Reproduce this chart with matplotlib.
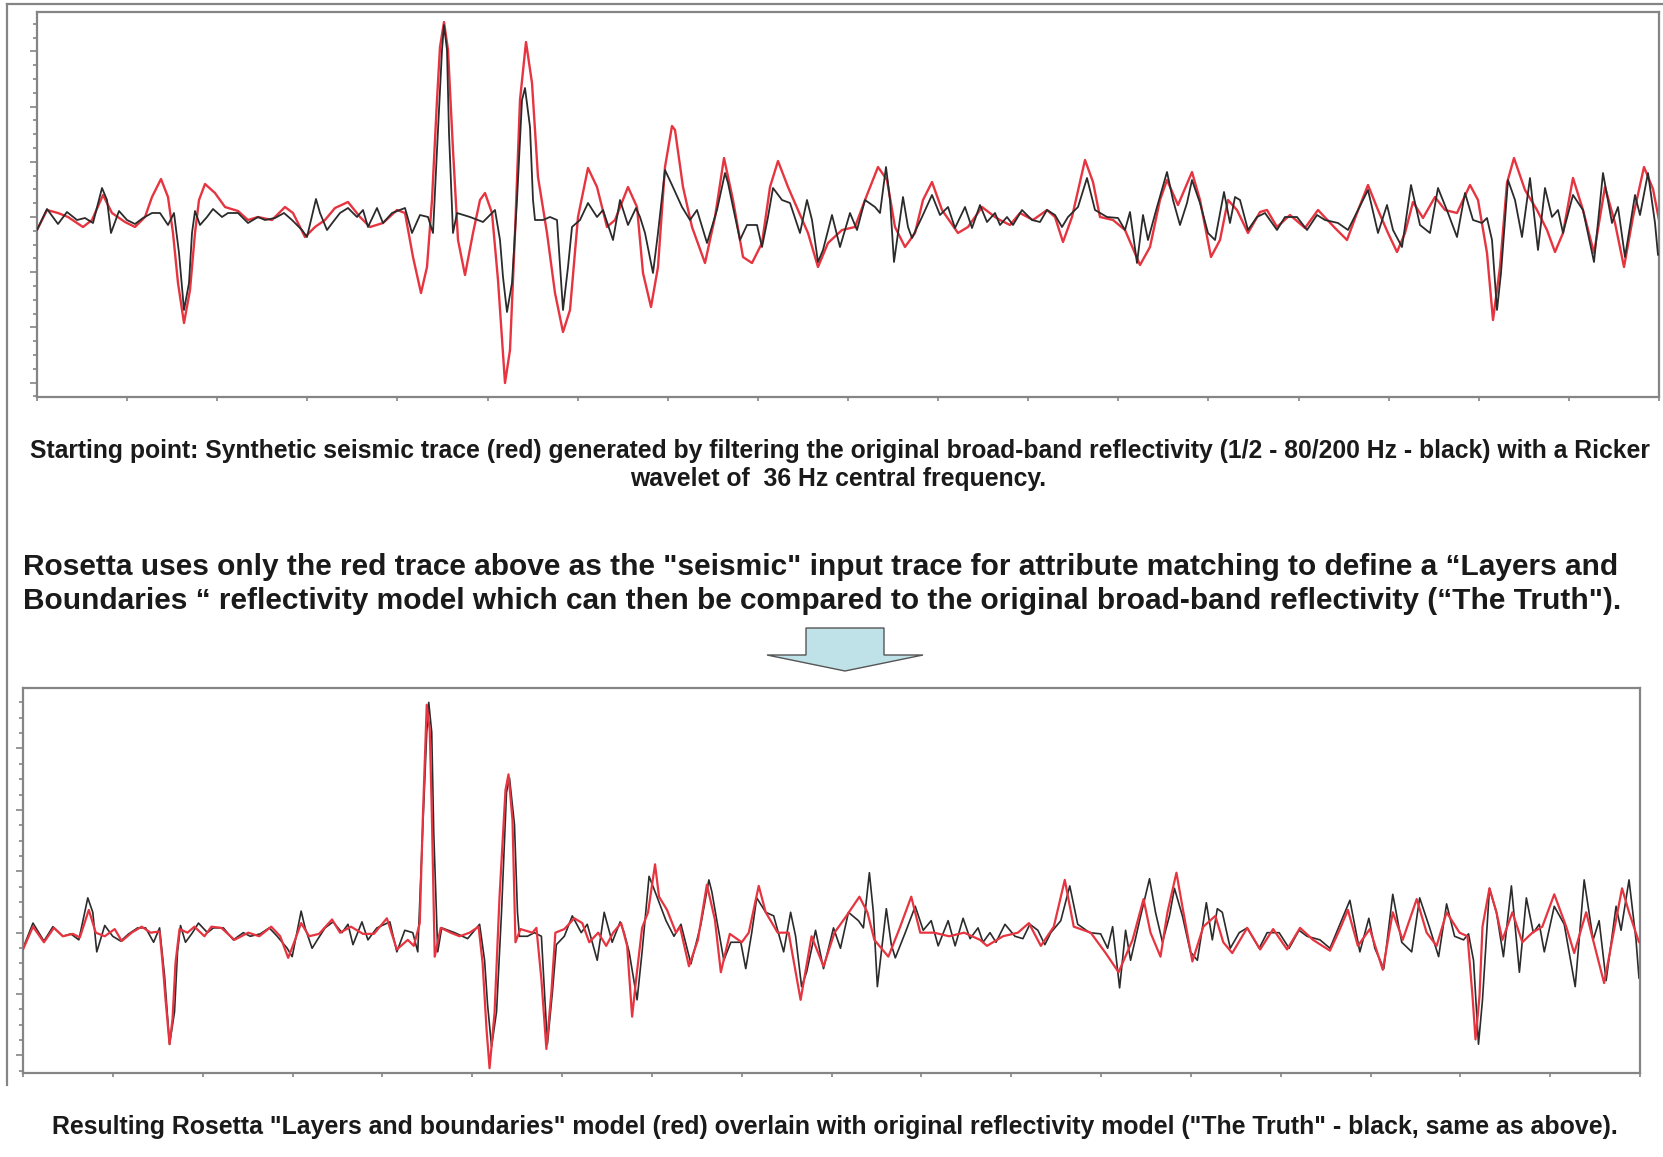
import numpy as np
import matplotlib.pyplot as plt
from matplotlib.patches import Polygon
from matplotlib.lines import Line2D

# Original broad-band reflectivity ("The Truth", black) - (time, amplitude)
truth = np.array([
    (6, -13), (16, 8), (27, -7), (36, 5), (46, -3), (54, -1), (62, -6), (71, 29), (76, 17), (80, -16),
    (88, 6), (96, -3), (104, -7), (112, -1), (121, 4), (129, 4), (137, -8), (143, 4), (148, -36), (153, -93),
    (158, -66), (161, -16), (164, 6), (169, -8), (176, 0), (182, 8), (191, 0), (197, 4), (207, 4), (217, -6),
    (227, 0), (234, -3), (244, -1), (253, 4), (261, -3), (271, -13), (276, -20), (280, -3), (285, 18), (289, 4),
    (296, -13), (302, -5), (309, 4), (317, 9), (326, 0), (332, 7), (337, -10), (346, 9), (352, -6), (361, 4),
    (374, 9), (381, -16), (389, 2), (397, 0), (402, -16), (406, 67), (411, 167), (413, 192), (416, 167), (418, 84),
    (422, -16), (426, 4), (439, 0), (452, -5), (464, 7), (469, -23), (472, -60), (476, -95), (481, -66), (486, 17),
    (491, 117), (494, 129), (499, 90), (502, 17), (504, -3), (512, -3), (519, 0), (526, -3), (532, -93), (537, -50),
    (541, -10), (549, -3), (557, 14), (566, 0), (572, 7), (582, -23), (589, 17), (597, -8), (605, 9), (609, 0),
    (614, -16), (622, -56), (627, -16), (634, 47), (641, 32), (651, 10), (659, -3), (666, 7), (676, -26), (686, 7),
    (694, 44), (697, 34), (702, 10), (709, -23), (716, -8), (726, -8), (731, -30), (737, 0), (742, 29), (751, 17),
    (759, 14), (769, -16), (776, 17), (781, -3), (787, -45), (792, -33), (801, 2), (809, -30), (819, 4), (826, -13),
    (834, 17), (844, 10), (849, 4), (855, 50), (859, 17), (863, -45), (867, -16), (872, 20), (877, -10), (881, -21),
    (891, 0), (901, 22), (909, 2), (917, 10), (924, -11), (934, 10), (941, -11), (949, 12), (956, -5), (964, 4),
    (969, -8), (976, 0), (982, -8), (991, 7), (1001, -3), (1009, -5), (1016, 7), (1024, 2), (1031, -10), (1037, 0),
    (1047, 10), (1056, 39), (1064, 7), (1076, 0), (1087, -1), (1094, -13), (1099, 5), (1106, -46), (1112, 2), (1117, -23),
    (1126, 10), (1136, 45), (1142, 17), (1149, -8), (1156, 14), (1161, 37), (1169, 14), (1177, -16), (1184, -23), (1189, 4),
    (1193, 25), (1199, -6), (1204, 20), (1209, 17), (1217, -13), (1226, 0), (1234, 4), (1246, -13), (1254, 0), (1266, 0),
    (1276, -13), (1286, 2), (1294, -3), (1307, -6), (1317, -13), (1327, 7), (1337, 27), (1347, -16), (1356, 12), (1362, -13),
    (1371, -30), (1380, 32), (1389, -8), (1399, -16), (1407, 29), (1417, 4), (1426, -20), (1434, 24), (1442, -3), (1451, -6),
    (1456, -1), (1461, -23), (1466, -93), (1470, -56), (1477, 37), (1484, 17), (1491, -20), (1499, 39), (1507, -33), (1514, 29),
    (1521, 0), (1527, 7), (1532, -16), (1542, 22), (1552, 7), (1563, -45), (1572, 44), (1581, -6), (1587, 10), (1594, -40),
    (1604, 22), (1609, 2), (1617, 44), (1624, -6), (1627, -38),
])

# Synthetic seismic trace (red, top panel)
synthetic = np.array([
    (6, -13), (16, 7), (27, 4), (37, 0), (52, -10), (61, -3), (72, 22), (81, 4), (94, -5), (104, -10),
    (114, 0), (121, 20), (130, 38), (137, 20), (142, -16), (147, -66), (153, -106), (159, -73), (164, -16), (168, 17),
    (174, 33), (184, 24), (194, 10), (207, 6), (217, -3), (227, 0), (241, -3), (254, 10), (262, 4), (274, -20),
    (284, -10), (294, -3), (304, 9), (317, 15), (329, 0), (339, -10), (352, -6), (366, 7), (374, 4), (382, -40),
    (390, -76), (396, -50), (401, 17), (406, 117), (409, 170), (413, 195), (417, 167), (422, 67), (427, -23), (434, -58),
    (442, -16), (449, 17), (454, 24), (461, 4), (467, -63), (474, -166), (479, -133), (484, -16), (489, 117), (495, 175),
    (501, 134), (507, 40), (516, -16), (524, -76), (532, -115), (539, -93), (547, 0), (557, 49), (566, 30), (576, -10),
    (584, -3), (597, 30), (606, 10), (612, -56), (620, -90), (627, -50), (634, 50), (641, 91), (644, 87), (652, 30),
    (661, -10), (674, -46), (684, 0), (693, 59), (702, 17), (712, -40), (721, -46), (731, -26), (739, 30), (747, 56),
    (757, 30), (767, 7), (777, -16), (787, -50), (797, -26), (811, -13), (824, -10), (834, 17), (847, 50), (856, 37),
    (864, -10), (874, -30), (884, -16), (892, 17), (901, 35), (911, 7), (927, -16), (937, -10), (951, 10), (964, 0),
    (969, -3), (979, -8), (989, 4), (1002, -3), (1016, 7), (1024, 0), (1032, -25), (1041, 0), (1054, 57), (1062, 35),
    (1069, 0), (1082, -3), (1094, -13), (1109, -48), (1119, -30), (1129, 17), (1136, 37), (1147, 12), (1161, 45), (1169, 17),
    (1180, -40), (1189, -23), (1197, 17), (1206, 7), (1217, -16), (1229, 5), (1236, 7), (1246, -10), (1259, 2), (1274, -11),
    (1287, 7), (1304, -11), (1316, -23), (1326, 4), (1337, 32), (1347, 7), (1357, -16), (1366, -35), (1374, -16), (1382, 15),
    (1392, -1), (1404, 20), (1414, 7), (1426, 4), (1439, 32), (1447, 17), (1456, -36), (1462, -103), (1469, -50), (1476, 34),
    (1483, 59), (1494, 27), (1506, 7), (1516, -13), (1524, -35), (1532, -16), (1542, 39), (1552, 7), (1563, -36), (1574, 30),
    (1584, -6), (1593, -50), (1602, 0), (1613, 50), (1622, 28), (1628, -3),
])

# Rosetta "Layers and boundaries" model (red, bottom panel)
model = np.array([
    (6, -14), (16, 5), (27, -8), (37, 4), (46, -3), (56, -1), (63, -4), (72, 19), (79, 0), (88, -3),
    (98, 3), (105, -7), (115, 0), (125, 5), (134, 0), (143, 1), (146, -25), (149, -56), (153, -93), (156, -72),
    (159, -25), (163, 3), (171, 0), (178, 5), (188, -3), (195, 5), (205, 4), (218, -6), (232, 0), (243, -3),
    (255, 5), (264, -3), (272, -21), (278, -8), (285, 8), (293, -3), (303, -1), (316, 11), (324, 0), (335, 5),
    (347, -1), (358, -1), (371, 12), (381, -14), (392, -6), (398, -11), (404, 8), (407, 94), (411, 190), (414, 169),
    (416, 103), (419, -20), (425, 4), (435, 0), (444, -3), (454, 0), (463, 5), (467, -25), (471, -81), (474, -113),
    (479, -67), (484, 30), (490, 119), (493, 132), (497, 94), (500, -8), (505, 3), (517, 0), (521, 4), (526, -39),
    (531, -97), (536, -50), (540, 0), (549, 3), (559, 12), (567, 8), (574, -8), (583, 0), (591, -11), (598, 0),
    (606, 8), (612, -11), (617, -70), (621, -39), (627, 4), (633, 17), (640, 57), (644, 30), (652, 19), (661, 0),
    (665, 5), (674, -28), (683, -6), (692, 40), (700, 11), (706, -33), (715, -1), (727, -8), (734, 0), (744, 39),
    (751, 17), (763, 0), (774, 0), (786, -56), (797, -3), (809, -28), (820, 0), (832, 14), (845, 30), (853, 17),
    (860, -6), (874, -20), (885, 3), (897, 30), (906, 0), (920, 0), (935, -3), (950, 0), (966, -6), (973, -11),
    (989, -3), (1004, 0), (1015, 8), (1027, -11), (1040, 5), (1051, 44), (1060, 5), (1077, 0), (1092, -17), (1105, -33),
    (1119, -6), (1130, 28), (1137, 0), (1147, -20), (1154, 17), (1163, 50), (1170, 17), (1179, -24), (1190, 5), (1202, 14),
    (1210, -8), (1219, -17), (1234, 4), (1247, -14), (1260, 3), (1274, -14), (1287, 4), (1300, -6), (1317, -15), (1327, 3),
    (1335, 19), (1345, -11), (1357, 3), (1370, -31), (1380, 17), (1390, -6), (1404, 28), (1414, 0), (1424, -11), (1434, 17),
    (1447, 0), (1455, -3), (1460, -53), (1463, -89), (1467, -53), (1470, 5), (1477, 37), (1484, 17), (1490, -6), (1500, 17),
    (1510, -8), (1520, 0), (1530, 5), (1542, 32), (1554, 5), (1562, -17), (1574, 17), (1580, -3), (1592, -42), (1599, -11),
    (1610, 37), (1617, 17), (1627, -8),
])

caption_top = ["Starting point: Synthetic seismic trace (red) generated by filtering the original broad-band "
               "reflectivity (1/2 - 80/200 Hz - black) with a Ricker",
               "wavelet of  36 Hz central frequency."]
message = ["Rosetta uses only the red trace above as the \"seismic\" input trace for attribute matching to "
           "define a \u201cLayers and",
           "Boundaries \u201c reflectivity model which can then be compared to the original broad-band "
           "reflectivity (\u201cThe Truth\")."]
caption_bottom = ("Resulting Rosetta \"Layers and boundaries\" model (red) overlain with original "
                  "reflectivity model (\"The Truth\" - black, same as above).")

W, H = 1663, 1157
RED = '#e63540'
BLACK = '#2b2b2b'
GREY = '#858585'

fig = plt.figure(figsize=(W / 100, H / 100), dpi=100)
fig.patch.set_facecolor('white')


def box(left, top, right, bottom):
    return [left / W, 1 - bottom / H, (right - left) / W, (bottom - top) / H]


ax1 = fig.add_axes(box(37, 12, 1659, 397))
ax2 = fig.add_axes(box(23, 688, 1640, 1073))

line_kw = dict(solid_joinstyle='round', solid_capstyle='round')
# top: red under black; bottom: model (red) over the truth
ax1.plot(synthetic[:, 0], synthetic[:, 1], color=RED, lw=1.7, zorder=2, **line_kw)
ax1.plot(truth[:, 0], truth[:, 1], color=BLACK, lw=1.3, zorder=3, **line_kw)
ax2.plot(truth[:, 0], truth[:, 1], color=BLACK, lw=1.2, zorder=2, **line_kw)
ax2.plot(model[:, 0], model[:, 1], color=RED, lw=1.6, zorder=3, **line_kw)

for ax, ylim, step in [(ax1, (-180, 205), 13.8), (ax2, (-117, 204), 12.8)]:
    ax.set_xlim(6, 1628)
    ax.set_ylim(*ylim)
    k = np.arange(np.ceil(ylim[0] / step), np.floor(ylim[1] / step) + 1)
    ax.set_yticks(k[k % 4 == 0] * step)
    ax.set_yticks(k * step, minor=True)
    ax.set_xticks(np.linspace(6, 1628, 19))
    ax.tick_params(axis='both', which='both', labelleft=False, labelbottom=False,
                   direction='out', color=GREY, width=1.2)
    ax.tick_params(axis='y', which='major', length=5)
    ax.tick_params(axis='y', which='minor', length=3)
    ax.tick_params(axis='x', which='major', length=3)
    for s in ax.spines.values():
        s.set_color(GREY)
        s.set_linewidth(1.6)

# outer frame lines
fig.add_artist(Line2D([7 / W, 1], [1 - 4 / H, 1 - 4 / H], color=GREY, lw=1.6))
fig.add_artist(Line2D([7 / W, 7 / W], [1 - 4 / H, 1 - 1085 / H], color=GREY, lw=1.6))

renderer = fig.canvas.get_renderer()


def fit(txt, width_px):
    w = txt.get_window_extent(renderer).width
    txt.set_fontsize(txt.get_fontsize() * width_px / w)
    return txt.get_fontsize()


bold = dict(fontweight='bold', color='#1a1a1a', va='center')
narrow = ['Liberation Sans Narrow', 'Liberation Sans', 'DejaVu Sans']
arial = ['Liberation Sans', 'DejaVu Sans']

t1 = fig.text(840 / W, 1 - 451 / H, caption_top[0], ha='center', family=narrow, fontsize=14, **bold)
size = fit(t1, 1628)
fig.text(838 / W, 1 - 479 / H, caption_top[1], ha='center', family=narrow, fontsize=size, **bold)

m2 = fig.text(23 / W, 1 - 601 / H, message[1], ha='left', family=arial, fontsize=18, **bold)
size = fit(m2, 1600)
fig.text(23 / W, 1 - 567 / H, message[0], ha='left', family=arial, fontsize=size, **bold)

c2 = fig.text(835 / W, 1 - 1127 / H, caption_bottom, ha='center', family=arial, fontsize=14, **bold)
fit(c2, 1570)

# block arrow between the panels
arrow_px = [(806, 628), (884, 628), (884, 655), (923, 655), (845, 671), (767, 655), (806, 655)]
fig.add_artist(Polygon([(x / W, 1 - y / H) for x, y in arrow_px], closed=True,
                       facecolor='#bfe1e8', edgecolor='#555555', lw=1.0, transform=fig.transFigure))

fig.savefig('out.png', dpi=100)
